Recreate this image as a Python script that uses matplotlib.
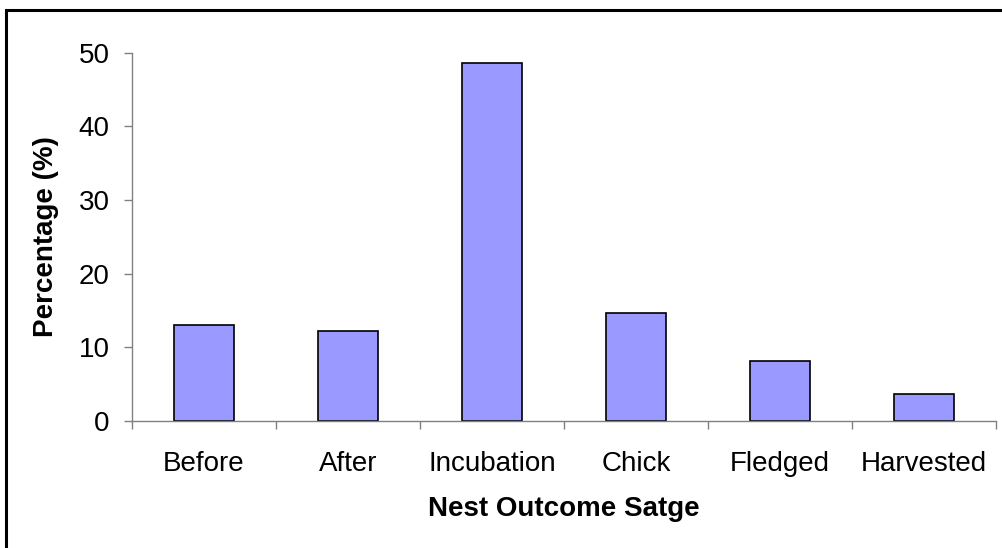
import matplotlib.pyplot as plt
from matplotlib.patches import Rectangle

stages = ['Before', 'After', 'Incubation', 'Chick', 'Fledged', 'Harvested']
percent = [13.0, 12.2, 48.6, 14.7, 8.2, 3.6]

plt.rcParams['font.family'] = ['Liberation Sans', 'DejaVu Sans']

fig = plt.figure(figsize=(10.02, 5.48), dpi=100)
ax = fig.add_axes([132 / 1002, 1 - 421 / 548, 864 / 1002, 368.3 / 548])

pos = [i + 0.5 for i in range(len(stages))]
ax.bar(pos, percent, width=0.41, color='#9999FF', edgecolor='black', linewidth=1.2)

ax.set_xlim(0, len(stages))
ax.set_ylim(0, 50)
ax.set_yticks([0, 10, 20, 30, 40, 50])
ax.set_xticks(range(len(stages) + 1))
ax.set_xticks(pos, minor=True)
ax.set_xticklabels([])
ax.set_xticklabels(stages, minor=True)
ax.tick_params(axis='x', which='major', length=6, width=1, color='#808080', direction='out')
ax.tick_params(axis='x', which='minor', length=0, pad=21.5, labelsize=20)
ax.tick_params(axis='y', length=6, width=1, color='#808080', pad=10, labelsize=20)

for s in ['top', 'right']:
    ax.spines[s].set_visible(False)
for s in ['left', 'bottom']:
    ax.spines[s].set_color('#808080')
    ax.spines[s].set_linewidth(1)

ax.set_xlabel('Nest Outcome Satge', fontsize=20, fontweight='bold', va='center')
ax.xaxis.set_label_coords(0.5, (421 - 509) / 368.3)
ax.set_ylabel('Percentage (%)', fontsize=20, fontweight='bold', va='center')
ax.yaxis.set_label_coords((46 - 132) / 864, 0.5)

# outer chart border
fig.patches.append(Rectangle((5.5 / 1002, -0.1), 1.2, 1 - 9.5 / 548 + 0.1,
                             transform=fig.transFigure, fill=False,
                             edgecolor='black', linewidth=2.2))

fig.savefig('out.png', dpi=100)
